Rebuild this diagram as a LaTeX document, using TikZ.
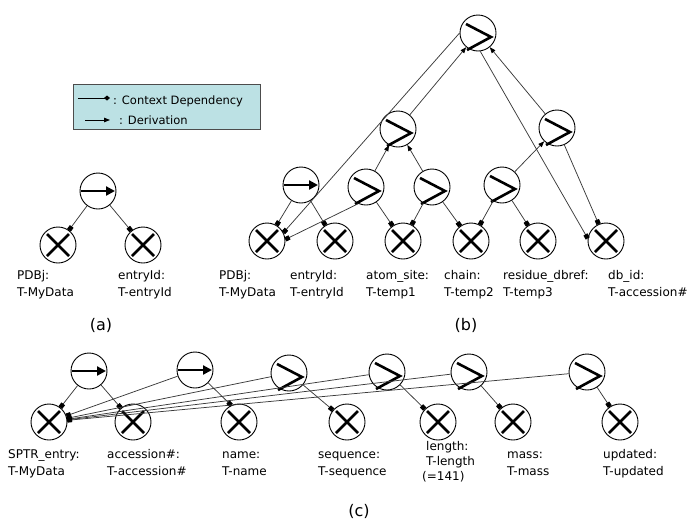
\documentclass[tikz,border=0pt]{standalone}
\usepackage{fontspec}
\setmainfont{DejaVu Sans}
\usetikzlibrary{arrows.meta}

\definecolor{keyfill}{HTML}{BCE1E4}
\definecolor{edgegray}{HTML}{3A3A3A}

\tikzset{
  op/.style={circle, draw=black, line width=0.9pt, minimum size=36pt, inner sep=0pt},
  glyph/.style={line width=2.6pt},
  ctx/.style={draw=edgegray, line width=0.75pt, -{Square[length=4.6pt,width=4.6pt,black]}},
  ctxkey/.style={draw=black, line width=0.8pt, -{Diamond[length=6pt,width=5pt]}},
  der/.style={draw=edgegray, line width=0.75pt, -{Triangle[length=6pt,width=4.5pt,black]}},
  % multi-line labels: placed by the baseline of their last line
  lbl/.style={anchor=base west, inner sep=0pt, align=left, font=\fontsize{12}{17}\selectfont},
  keytext/.style={anchor=base west, inner sep=0pt, font=\fontsize{11.5}{14}\selectfont},
  subcaption/.style={inner sep=0pt, font=\fontsize{16}{16}\selectfont},
}

% operand node: circle with a cross
\newcommand\crossop[2]{%
  \node[op] (#1) at (#2) {};
  \draw[glyph] ([shift={(-11,-11)}]#1.center) -- ([shift={(11,11)}]#1.center)
               ([shift={(-11,11)}]#1.center) -- ([shift={(11,-11)}]#1.center);}
% derivation operator: circle with a "greater than" sign
\newcommand\derivop[2]{%
  \node[op] (#1) at (#2) {};
  \draw[glyph, line join=miter] ([shift={(-12,-9)}]#1.center) -- ([shift={(13,4)}]#1.center)
               -- ([shift={(-11,17)}]#1.center);}
% context operator: circle with a bold arrow
\newcommand\ctxop[2]{%
  \node[op] (#1) at (#2) {};
  \draw[glyph, -{Triangle[length=9pt,width=9pt]}] ([shift={(-17,0)}]#1.center)
               -- ([shift={(17,0)}]#1.center);}

\begin{document}
\begin{tikzpicture}[x=1pt, y=-1pt]
\useasboundingbox (0,0) rectangle (691,523);

% ---------- key ----------
\node[draw=black!70, fill=keyfill, line width=0.8pt, minimum width=187pt,
      minimum height=45pt, anchor=north west, inner sep=0pt] (key) at (73,84) {};
\coordinate (k1s) at (78,98);  \coordinate (k1e) at (110,98);
\coordinate (k2s) at (85,120); \coordinate (k2e) at (110,120);
\draw[ctxkey] (k1s) -- (k1e);
\draw[der, draw=black, line width=0.8pt] (k2s) -- (k2e);
\node[keytext] (kt1) at (113,104) {: Context Dependency};
\node[keytext] (kt2) at (119,124) {: Derivation};

% ---------- (a) ----------
\ctxop{aop}{98,191}
\crossop{ax1}{58,245}
\crossop{ax2}{143,245}
\draw[ctx] (aop) -- (ax1);
\draw[ctx] (aop) -- (ax2);
\node[lbl] (la1) at (17,296) {PDBj:\\T-MyData};
\node[lbl] (la2) at (118,296) {entryId:\\T-entryId};
\node[subcaption] (capa) at (101,325) {(a)};

% ---------- (b) ----------
\crossop{b1}{267,241}
\crossop{b2}{335,241}
\crossop{b3}{403,241}
\crossop{b4}{471,241}
\crossop{b5}{538,241}
\crossop{b6}{606,241}
\ctxop{ba}{301,185}
\derivop{bg1}{366,187}
\derivop{bg2}{432,187}
\derivop{bg3}{502,185}
\derivop{bm}{398,129}
\derivop{br}{557,128}
\derivop{bt}{478,33}

\draw[ctx] (ba) -- (b1);
\draw[ctx] (ba) -- (b2);
\draw[ctx] (bg1.245) -- (b1.5);
\draw[ctx] (bg1) -- (b3);
\draw[ctx] (bg2) -- (b3);
\draw[ctx] (bg2) -- (b4);
\draw[ctx] (bg3) -- (b4);
\draw[ctx] (bg3) -- (b5);
\draw[ctx] (br) -- (b6);
\draw[ctx] (bt.-83) -- (b6.172);
\draw[ctx] (bt.180) -- (b1.27);
\draw[der] (bg1) -- (bm);
\draw[der] (bg2) -- (bm);
\draw[der] (bg3) -- (br);
\draw[der] (bm) -- (bt);
\draw[der] (br) -- (bt);

\node[lbl] (lb1) at (219,296) {PDBj:\\T-MyData};
\node[lbl] (lb2) at (290,296) {entryId:\\T-entryId};
\node[lbl] (lb3) at (366,296) {atom\_site:\\T-temp1};
\node[lbl] (lb4) at (444,296) {chain:\\T-temp2};
\node[lbl] (lb5) at (503,296) {residue\_dbref:\\T-temp3};
\node[lbl] (lb6) at (608,296) {db\_id:\\T-accession\#};
\node[subcaption] (capb) at (466,325) {(b)};

% ---------- (c) ----------
\crossop{c1}{49,422}
\crossop{c2}{133,422}
\crossop{c3}{239,422}
\crossop{c4}{347,422}
\crossop{c5}{438,422}
\crossop{c6}{513,422}
\crossop{c7}{620,422}
\ctxop{cp1}{89,371}
\ctxop{cp2}{195,370}
\derivop{cq1}{289,373}
\derivop{cq2}{387,372}
\derivop{cq3}{469,372}
\derivop{cq4}{587,372}

\draw[ctx] (cp1) -- (c1);
\draw[ctx] (cp1) -- (c2);
\draw[ctx] (cp2) -- (c1);
\draw[ctx] (cp2) -- (c3.115);
\draw[ctx] (cq1) -- (c1);
\draw[ctx] (cq1) -- (c4);
\draw[ctx] (cq2) -- (c1);
\draw[ctx] (cq2) -- (c5);
\draw[ctx] (cq3) -- (c1);
\draw[ctx] (cq3) -- (c6);
\draw[ctx] (cq4) -- (c1);
\draw[ctx] (cq4) -- (c7);

\node[lbl] (lc1) at (8,475) {SPTR\_entry:\\T-MyData};
\node[lbl] (lc2) at (107,475) {accession\#:\\T-accession\#};
\node[lbl] (lc3) at (222,475) {name:\\T-name};
\node[lbl] (lc4) at (318,475) {sequence:\\T-sequence};
\node[lbl, font=\fontsize{12}{15}\selectfont] (lc5) at (426,480)
     {length:\\T-length\\\hspace*{-4pt}(=141)};
\node[lbl] (lc6) at (507,475) {mass:\\T-mass};
\node[lbl] (lc7) at (603,475) {updated:\\T-updated};
\node[subcaption] (capc) at (359,511) {(c)};
\end{tikzpicture}
\end{document}
